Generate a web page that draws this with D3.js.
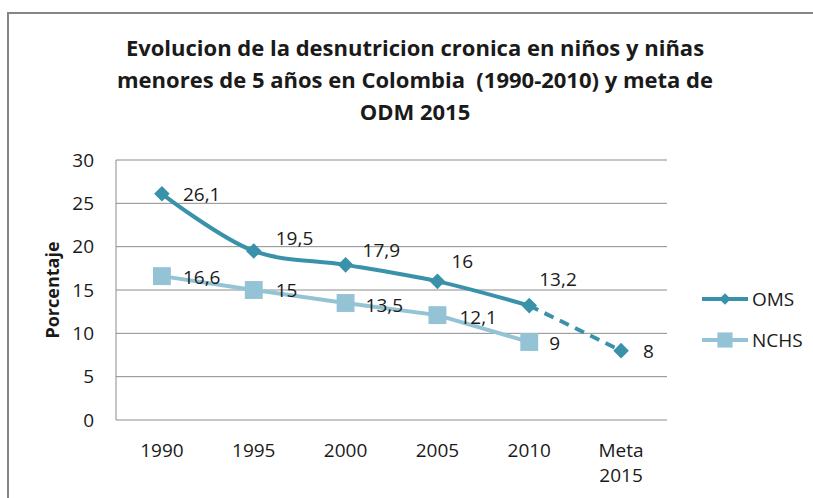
<!DOCTYPE html>
<html>
<head>
<meta charset="utf-8">
<script src="https://cdn.jsdelivr.net/npm/d3@7"></script>
<style>
  body { margin: 0; background: #fff; }
  text { font-family: "Open Sans", Calibri, sans-serif; fill: #1a1a1a; }
</style>
</head>
<body>
<script>
const width = 813;
const height = 498;
const marginTop = 160;
const marginRight = 146;
const marginBottom = 78;
const marginLeft = 116;

const categories = ["1990", "1995", "2000", "2005", "2010", "Meta 2015"];
const omsValues = [26.1, 19.5, 17.9, 16, 13.2, 8];
const nchsValues = [16.6, 15, 13.5, 12.1, 9];
const yTicks = [0, 5, 10, 15, 20, 25, 30];
const titleLines = [
  "Evolucion de la desnutricion cronica en niños y niñas",
  "menores de 5 años en Colombia  (1990-2010) y meta de",
  "ODM 2015"
];
const seriesNames = ["OMS", "NCHS"];

// label nudges (style only)
const omsLabelDx = [21, 22, 17, 14, 10, 22];
const omsLabelDy = [1, -13, -15, -20, -26, 1];
const nchsLabelDx = [21, 22, 20, 22, 20];
const nchsLabelDy = [1, 0, 2, 2, 1];

const omsColor = "#3a92aa";
const nchsColor = "#93c3d5";
const gridColor = "#8c8c8c";

const fmt = v => String(v).replace(".", ",");

const xScale = d3.scaleBand()
    .domain(categories)
    .range([marginLeft, width - marginRight]);

const yScale = d3.scaleLinear()
    .domain([0, 30])
    .range([height - marginBottom, marginTop]);

const cx = c => xScale(c) + xScale.bandwidth() / 2;

const svg = d3.select("body")
    .append("svg")
    .attr("width", width)
    .attr("height", height);

// outer frame
svg.append("rect")
    .attr("x", 8)
    .attr("y", 13)
    .attr("width", width + 20)
    .attr("height", height + 20)
    .attr("fill", "none")
    .attr("stroke", "#868686")
    .attr("stroke-width", 2);

// title
svg.append("g")
  .selectAll("text")
  .data(titleLines)
  .join("text")
    .attr("x", 415)
    .attr("y", (d, i) => 56 + i * 32)
    .attr("text-anchor", "middle")
    .attr("font-size", 22)
    .attr("font-weight", "bold")
    .attr("style", "white-space: pre")
    .text(d => d);

// gridlines
svg.append("g")
  .selectAll("line")
  .data(yTicks.slice(1))
  .join("line")
    .attr("x1", marginLeft)
    .attr("x2", width - marginRight)
    .attr("y1", d => yScale(d))
    .attr("y2", d => yScale(d))
    .attr("stroke", gridColor)
    .attr("stroke-width", 1);

// axes lines
svg.append("line")
    .attr("x1", marginLeft).attr("x2", marginLeft)
    .attr("y1", yScale(30)).attr("y2", yScale(0))
    .attr("stroke", gridColor);
svg.append("line")
    .attr("x1", marginLeft).attr("x2", width - marginRight)
    .attr("y1", yScale(0)).attr("y2", yScale(0))
    .attr("stroke", gridColor);

// y tick labels
svg.append("g")
  .selectAll("text")
  .data(yTicks)
  .join("text")
    .attr("x", 94)
    .attr("y", d => yScale(d))
    .attr("dy", "0.35em")
    .attr("text-anchor", "end")
    .attr("font-size", 19)
    .text(d => d);

// y axis title
svg.append("text")
    .attr("transform", `translate(59, 290) rotate(-90)`)
    .attr("text-anchor", "middle")
    .attr("font-size", 18)
    .attr("font-weight", "bold")
    .text("Porcentaje");

// x tick labels
const xLabels = svg.append("g")
  .selectAll("text")
  .data(categories)
  .join("text")
    .attr("x", d => cx(d))
    .attr("y", 457)
    .attr("text-anchor", "middle")
    .attr("font-size", 19);
xLabels.each(function(d) {
  const parts = d.split(" ");
  d3.select(this).selectAll("tspan")
    .data(parts)
    .join("tspan")
      .attr("x", cx(d))
      .attr("dy", (p, i) => i === 0 ? 0 : 25)
      .text(p => p);
});

// lines
const nchsPts = nchsValues.map((v, i) => [cx(categories[i]), yScale(v)]);
const omsPts = omsValues.map((v, i) => [cx(categories[i]), yScale(v)]);

svg.append("path")
    .attr("d", d3.line()(nchsPts))
    .attr("fill", "none")
    .attr("stroke", nchsColor)
    .attr("stroke-width", 4);

svg.append("path")
    .attr("d", d3.line().curve(d3.curveCatmullRom.alpha(0.5))(omsPts.slice(0, 5)))
    .attr("fill", "none")
    .attr("stroke", omsColor)
    .attr("stroke-width", 4);

svg.append("path")
    .attr("d", d3.line()(omsPts.slice(4)))
    .attr("fill", "none")
    .attr("stroke", omsColor)
    .attr("stroke-width", 4)
    .attr("stroke-dasharray", "10 7");

// markers
const diamond = d3.symbol().type(d3.symbolDiamond2).size(155);
const square = d3.symbol().type(d3.symbolSquare).size(320);

svg.append("g")
  .selectAll("path")
  .data(nchsPts)
  .join("path")
    .attr("transform", d => `translate(${d[0]},${d[1]})`)
    .attr("d", square())
    .attr("fill", nchsColor);

svg.append("g")
  .selectAll("path")
  .data(omsPts)
  .join("path")
    .attr("transform", d => `translate(${d[0]},${d[1]})`)
    .attr("d", diamond())
    .attr("fill", omsColor);

// data labels
svg.append("g")
  .selectAll("text")
  .data(nchsValues)
  .join("text")
    .attr("x", (d, i) => nchsPts[i][0] + nchsLabelDx[i])
    .attr("y", (d, i) => nchsPts[i][1] + nchsLabelDy[i])
    .attr("dy", "0.35em")
    .attr("font-size", 19)
    .text(d => fmt(d));

svg.append("g")
  .selectAll("text")
  .data(omsValues)
  .join("text")
    .attr("x", (d, i) => omsPts[i][0] + omsLabelDx[i])
    .attr("y", (d, i) => omsPts[i][1] + omsLabelDy[i])
    .attr("dy", "0.35em")
    .attr("font-size", 19)
    .text(d => fmt(d));

// legend
const legend = svg.append("g")
  .selectAll("g")
  .data(seriesNames)
  .join("g")
    .attr("transform", (d, i) => `translate(702, ${299 + i * 41})`);

legend.append("line")
    .attr("x1", 0).attr("x2", 46)
    .attr("stroke", (d, i) => i === 0 ? omsColor : nchsColor)
    .attr("stroke-width", 4);

legend.append("path")
    .attr("transform", "translate(23,0)")
    .attr("d", (d, i) => i === 0
      ? d3.symbol().type(d3.symbolDiamond2).size(85)()
      : d3.symbol().type(d3.symbolSquare).size(230)())
    .attr("fill", (d, i) => i === 0 ? omsColor : nchsColor);

legend.append("text")
    .attr("x", 50)
    .attr("dy", "0.35em")
    .attr("font-size", 19)
    .text(d => d);
</script>
</body>
</html>
